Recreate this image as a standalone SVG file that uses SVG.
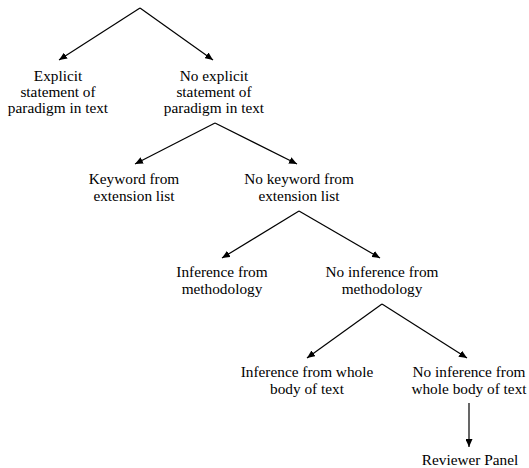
<svg xmlns="http://www.w3.org/2000/svg" width="529" height="468" viewBox="0 0 529 468">
<style>
text{font-family:'Liberation Serif','Times New Roman',serif;font-size:15.3px;fill:#000;text-anchor:middle}
.c line{stroke:#000;stroke-width:1.2;marker-end:url(#ah)}
</style>
<defs>
<marker id="ah" markerUnits="userSpaceOnUse" markerWidth="9" markerHeight="7" refX="8" refY="3.5" orient="auto"><path d="M0,0 L8,3.5 L0,7 z" fill="#000"/></marker>
</defs>
<rect width="529" height="468" fill="#fff"/>
<g class="c" id="connectors">
<line x1="140" y1="8" x2="59" y2="60"/>
<line x1="140" y1="8" x2="213" y2="60"/>
<line x1="215" y1="123" x2="135" y2="164"/>
<line x1="215" y1="123" x2="297" y2="164"/>
<line x1="299" y1="211" x2="222" y2="258"/>
<line x1="299" y1="211" x2="380" y2="258"/>
<line x1="382" y1="304" x2="307" y2="358"/>
<line x1="382" y1="304" x2="467" y2="358"/>
<line x1="469" y1="403" x2="469" y2="447"/>
</g>
<g id="n1"><text x="58" y="81">Explicit</text><text x="58" y="97">statement of</text><text x="58" y="113">paradigm in text</text></g>
<g id="n2"><text x="214" y="81">No explicit</text><text x="214" y="97">statement of</text><text x="214" y="113">paradigm in text</text></g>
<g id="n3"><text x="134" y="184">Keyword from</text><text x="134" y="201">extension list</text></g>
<g id="n4"><text x="299" y="184">No keyword from</text><text x="299" y="201">extension list</text></g>
<g id="n5"><text x="222" y="277">Inference from</text><text x="222" y="294">methodology</text></g>
<g id="n6"><text x="382" y="277">No inference from</text><text x="382" y="294">methodology</text></g>
<g id="n7"><text x="307" y="377">Inference from whole</text><text x="307" y="394">body of text</text></g>
<g id="n8"><text x="469" y="377">No inference from</text><text x="469" y="394">whole body of text</text></g>
<g id="n9"><text x="470" y="465">Reviewer Panel</text></g>
</svg>
